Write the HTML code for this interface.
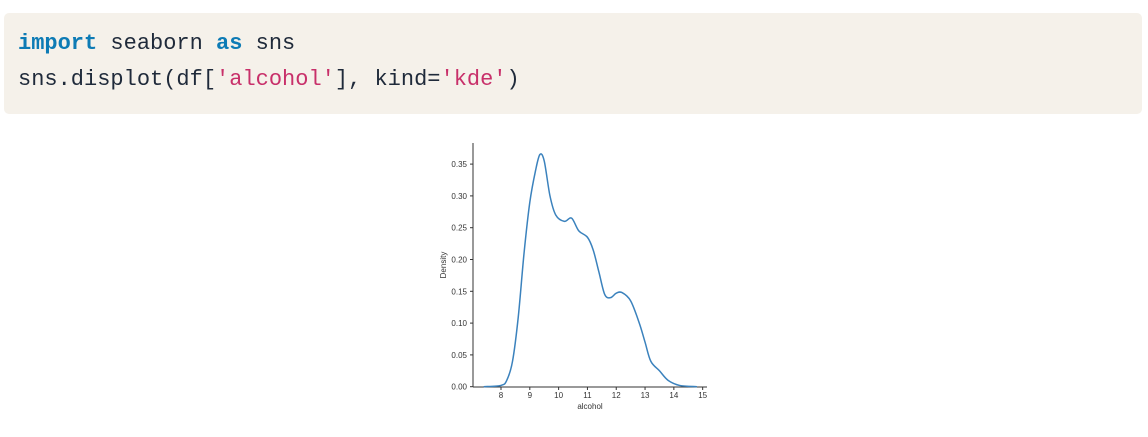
<!DOCTYPE html>
<html><head><meta charset="utf-8"><style>
body{margin:0;width:1148px;height:437px;background:#fff;overflow:hidden;position:relative}
.code{position:absolute;left:4px;top:13px;width:1138px;height:101px;background:#f5f1ea;border-radius:5px}
.code pre{margin:0;position:absolute;left:14px;font-family:"Liberation Mono","DejaVu Sans Mono",monospace;font-size:22px;color:#1f2a3a}
.kw{color:#0d7bb5;font-weight:bold}.str{color:#c8306a}
svg{position:absolute;left:0;top:0}
</style></head><body>
<div class="code">
<pre style="top:18px"><span class="kw">import</span> seaborn <span class="kw">as</span> sns</pre>
<pre style="top:54px">sns.displot(df[<span class="str">'alcohol'</span>], kind=<span class="str">'kde'</span>)</pre>
</div>
<svg width="1148" height="437" id="chart" font-family="Liberation Sans, sans-serif"></svg>
<script>
const xs=[7.4,8.0,8.2,8.4,8.6,8.8,9.0,9.2,9.35,9.5,9.7,9.9,10.2,10.45,10.7,11.0,11.2,11.4,11.6,11.8,12.0,12.2,12.5,12.8,13.0,13.2,13.5,13.8,14.2,14.8];
const ys=[0,0.002,0.01,0.04,0.11,0.21,0.29,0.34,0.365,0.355,0.30,0.27,0.26,0.265,0.245,0.235,0.215,0.18,0.145,0.14,0.147,0.148,0.135,0.10,0.07,0.04,0.025,0.01,0.002,0];
const xTicks=[8,9,10,11,12,13,14,15];
const yTicks=[0,0.05,0.10,0.15,0.20,0.25,0.30,0.35];
const NS="http://www.w3.org/2000/svg";
const svg=document.getElementById('chart');
const X=v=>501+(v-8)*28.81, Y=v=>386.7-v*636;
function el(t,a){const e=document.createElementNS(NS,t);for(const k in a)e.setAttribute(k,a[k]);svg.appendChild(e);return e;}
let ax=el('line',{x1:473,x2:473,y1:143,y2:387,stroke:'#333','stroke-width':1});


ax=el('line',{x1:473,x2:707,y1:387,y2:387,stroke:'#333','stroke-width':1});


xTicks.forEach(t=>{el('line',{x1:X(t),x2:X(t),y1:387,y2:390,stroke:'#333'});
const tx=el('text',{x:X(t),y:398,'font-size':8,'text-anchor':'middle',fill:'#333'});tx.textContent=t;

});
yTicks.forEach(t=>{el('line',{x1:470,x2:473,y1:Y(t),y2:Y(t),stroke:'#333'});
const tx=el('text',{x:467,y:Y(t)+3,'font-size':8,'text-anchor':'end',fill:'#333'});tx.textContent=t.toFixed(2);

});
let t=el('text',{x:590,y:409,'font-size':8,'text-anchor':'middle',fill:'#333'});t.textContent='alcohol';


t=el('text',{x:446,y:265,'font-size':8,'text-anchor':'middle',fill:'#333',transform:'rotate(-90 446 265)'});t.textContent='Density';


const P=xs.map((x,i)=>[X(x),Y(ys[i])]);
let d='M'+P[0][0]+','+P[0][1];
for(let i=0;i<P.length-1;i++){const p0=P[i-1]||P[i],p1=P[i],p2=P[i+1],p3=P[i+2]||p2;
d+=` C${p1[0]+(p2[0]-p0[0])/6},${p1[1]+(p2[1]-p0[1])/6} ${p2[0]-(p3[0]-p1[0])/6},${p2[1]-(p3[1]-p1[1])/6} ${p2[0]},${p2[1]}`;}
const line=el('path',{d:d,fill:'none',stroke:'#3b82bd','stroke-width':1.5});


</script>
</body></html>
